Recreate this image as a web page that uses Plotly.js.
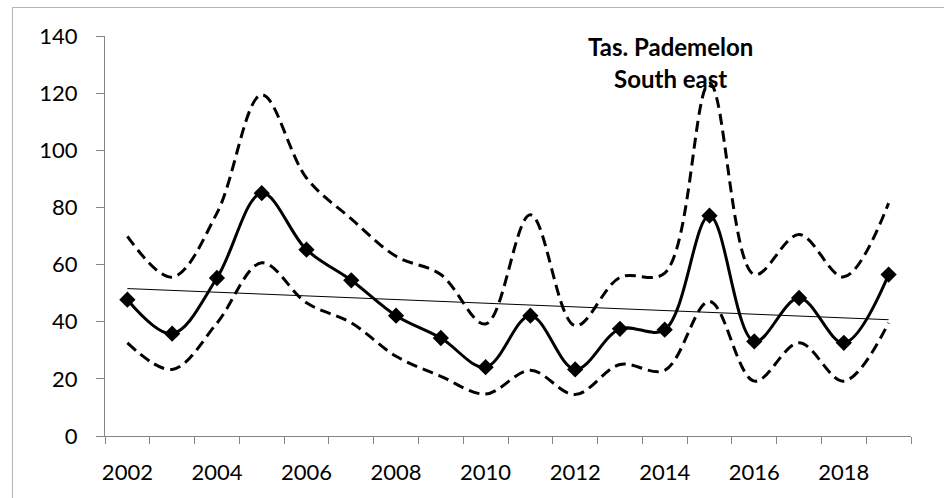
<!DOCTYPE html>
<html>
<head>
<meta charset="utf-8">
<script src="https://cdn.plot.ly/plotly-3.0.1.min.js"></script>
<style>
  html, body { margin: 0; padding: 0; background: #fff; }
  #chart { width: 944px; height: 498px; }
</style>
</head>
<body>
<div id="chart"></div>
<script>
// ---- data ----
const years = [2002, 2003, 2004, 2005, 2006, 2007, 2008, 2009, 2010, 2011, 2012, 2013, 2014, 2015, 2016, 2017, 2018, 2019];
const meanCount = [47.7, 35.8, 55.3, 85.0, 65.2, 54.5, 42.1, 34.3, 24.1, 42.1, 23.3, 37.5, 37.2, 77.1, 33.1, 48.3, 32.6, 56.5];
const upperCI = [69.9, 55.6, 78.0, 119.4, 90.3, 76.0, 62.9, 56.5, 39.2, 77.4, 38.6, 55.5, 57.0, 123.5, 56.5, 70.5, 55.7, 81.5];
const lowerCI = [32.6, 23.3, 39.5, 60.6, 46.6, 39.6, 27.9, 20.9, 14.7, 23.0, 14.5, 25.0, 23.0, 47.1, 19.2, 32.6, 19.2, 39.6];
const trendYears = [2002, 2019];
const trendValues = [51.6, 40.7];
const xTickVals = [2002, 2004, 2006, 2008, 2010, 2012, 2014, 2016, 2018];
const xTickText = ["2002", "2004", "2006", "2008", "2010", "2012", "2014", "2016", "2018"];
const yTickVals = [0, 20, 40, 60, 80, 100, 120, 140];
const titleLines = ["Tas. Pademelon", "South east"];

const axisGrey = '#868686';
const dashStyle = '11px,6px';

const traces = [
  { x: years, y: upperCI, type: 'scatter', mode: 'lines',
    line: { color: '#000', width: 3, dash: dashStyle, shape: 'spline', smoothing: 1 }, hoverinfo: 'skip' },
  { x: years, y: lowerCI, type: 'scatter', mode: 'lines',
    line: { color: '#000', width: 3, dash: dashStyle, shape: 'spline', smoothing: 1 }, hoverinfo: 'skip' },
  { x: trendYears, y: trendValues, type: 'scatter', mode: 'lines',
    line: { color: '#000', width: 1 }, hoverinfo: 'skip' },
  { x: years, y: meanCount, type: 'scatter', mode: 'lines+markers',
    line: { color: '#000', width: 3, shape: 'spline', smoothing: 1 },
    marker: { symbol: 'diamond', size: 12.5, color: '#000' } }
];

const layout = {
  width: 944, height: 498,
  margin: { l: 105, r: 33.3, t: 36, b: 61.5, pad: 0 },
  paper_bgcolor: '#fff', plot_bgcolor: '#fff',
  showlegend: false,
  font: { family: 'Lato, "Open Sans", sans-serif', size: 22, color: '#000' },
  xaxis: {
    range: [2001.5, 2019.5],
    showline: true, linecolor: axisGrey, linewidth: 1,
    showgrid: false, zeroline: false,
    tickmode: 'array', tickvals: xTickVals, ticktext: xTickText,
    ticks: '', ticklabelstandoff: 17,
    minor: { ticks: 'outside', tick0: 2001.5, dtick: 1, ticklen: 7, tickcolor: axisGrey, tickwidth: 1, showgrid: false }
  },
  yaxis: {
    range: [0, 140],
    showline: true, linecolor: axisGrey, linewidth: 1,
    showgrid: false, zeroline: false,
    tickmode: 'array', tickvals: yTickVals,
    ticks: 'outside', ticklen: 8, tickcolor: axisGrey, tickwidth: 1,
    ticklabelstandoff: 14
  },
  annotations: [
    { text: '<b>' + titleLines[0] + '</b>', xref: 'paper', yref: 'paper',
      x: 0.701, y: 0.975, xanchor: 'center', yanchor: 'middle', showarrow: false,
      font: { family: 'Lato, sans-serif', size: 24, color: '#000' } },
    { text: '<b>' + titleLines[1] + '</b>', xref: 'paper', yref: 'paper',
      x: 0.701, y: 0.895, xanchor: 'center', yanchor: 'middle', showarrow: false,
      font: { family: 'Lato, sans-serif', size: 24, color: '#000' } }
  ],
  shapes: [
    { type: 'line', xref: 'paper', yref: 'paper', x0: -0.1148, x1: -0.1148, y0: -0.2, y1: 1.0712,
      line: { color: '#b4b4b4', width: 1 } },
    { type: 'line', xref: 'paper', yref: 'paper', x0: -0.1148, x1: 1.06, y0: 1.0712, y1: 1.0712,
      line: { color: '#b4b4b4', width: 1 } }
  ]
};

Plotly.newPlot('chart', traces, layout, { displayModeBar: false, staticPlot: true });
</script>
</body>
</html>
